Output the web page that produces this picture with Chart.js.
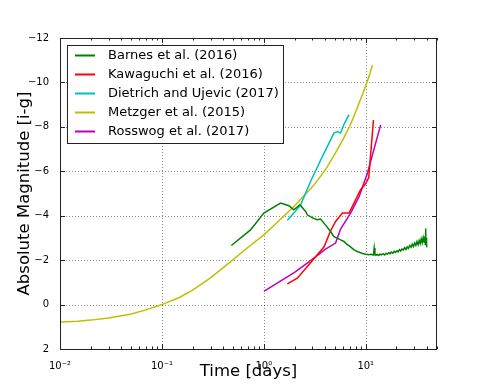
<!DOCTYPE html>
<html>
<head>
<meta charset="utf-8">
<script src="https://cdn.jsdelivr.net/npm/chart.js@4/dist/chart.umd.min.js"></script>
<style>
html,body{margin:0;padding:0;background:#fff;}
#wrap{width:485px;height:388px;position:relative;}
</style>
</head>
<body>
<div id="wrap"><canvas id="c" width="485" height="388"></canvas></div>
<script>
// ---- data ----
const seriesLabels = ['Barnes et al. (2016)','Kawaguchi et al. (2016)','Dietrich and Ujevic (2017)','Metzger et al. (2015)','Rosswog et al. (2017)'];
const seriesColors = ['#008000','#ff0000','#00bfbf','#bfbf00','#bf00bf'];

const barnesT = [0.48,0.74,1.0,1.46,1.76,1.97,2.26,2.57,2.67,3.0,3.34,3.6,4.0,4.5,4.87,5.2,5.66,6.1,6.5,7.0,7.66,8.27,9.3,
  10,10.6,11.2,11.9,12.1,12.3,12.6,13,13.4,13.8,14.3,14.8,15.3,15.8,16.3,16.8,17.3,17.8,18.4,19,19.6,20.2,20.8,21.4,22,22.7,23.4,24.1,24.8,25.5,26.2,27,27.8,28.6,29.4,30.2,31,31.8,32.6,33.4,34.2,35,35.8,36.6,37.4,38,38.4,38.7,39,39.3,39.7,40.2];
const barnesM = [-2.66,-3.36,-4.12,-4.57,-4.45,-4.27,-4.49,-4.19,-4.04,-3.9,-3.82,-3.85,-3.6,-3.3,-3.06,-3.0,-2.91,-2.84,-2.72,-2.62,-2.46,-2.39,-2.3,
  -2.27,-2.24,-2.26,-2.23,-2.55,-2.25,-2.22,-2.26,-2.21,-2.27,-2.24,-2.29,-2.23,-2.3,-2.27,-2.33,-2.29,-2.36,-2.31,-2.4,-2.35,-2.42,-2.37,-2.47,-2.41,-2.5,-2.46,-2.56,-2.48,-2.6,-2.53,-2.66,-2.58,-2.72,-2.61,-2.77,-2.66,-2.83,-2.7,-2.88,-2.74,-2.96,-2.78,-3.02,-2.8,-3.08,-2.72,-3.42,-2.7,-3.0,-2.65,-2.62];

const kawaT = [1.7,2.13,3.0,3.9,4.5,5.06,5.9,6.85,8.9,10.0,10.7,11.9];
const kawaM = [-0.93,-1.19,-1.98,-2.6,-3.3,-3.74,-4.12,-4.12,-5.17,-5.45,-5.72,-8.31];

const dietT = [1.7,2.0,2.3,2.88,3.74,4.87,5.26,5.66,6.1,6.84];
const dietM = [-3.8,-4.15,-4.5,-5.55,-6.65,-7.72,-7.79,-7.72,-8.1,-8.55];

const metzT = [0.01,0.015,0.02,0.03,0.05,0.07,0.1,0.15,0.2,0.3,0.5,0.7,1,1.5,2,3,4,5,6,7,8,9,10,11,11.6];
const metzM = [0.79,0.75,0.70,0.60,0.42,0.24,0.0,-0.33,-0.65,-1.2,-2.02,-2.58,-3.14,-3.9,-4.45,-5.3,-6.05,-6.8,-7.45,-8.05,-8.7,-9.3,-9.85,-10.4,-10.77];

const rossT = [1.0,2.0,2.88,4.03,5.06,5.66,7.1,8.6,10.4,14.0];
const rossM = [-0.59,-1.45,-1.98,-2.5,-2.77,-3.4,-4.12,-4.86,-5.92,-8.09];

const xTickValues = [0.01,0.1,1,10];
const xTickLabels = ['10\u207B\u00B2','10\u207B\u00B9','10\u2070','10\u00B9'];
const yTickValues = [-12,-10,-8,-6,-4,-2,0,2];
const yTickLabels = ['\u221212','\u221210','\u22128','\u22126','\u22124','\u22122','0','2'];

function zip(t,m){ return t.map((v,i)=>({x:v,y:m[i]})); }
const allT = [barnesT,kawaT,dietT,metzT,rossT];
const allM = [barnesM,kawaM,dietM,metzM,rossM];

const FONT = "'DejaVu Sans', sans-serif";

const framePlugin = {
  id:'frame',
  beforeDatasetsDraw(chart){
    const {ctx, chartArea:a, scales:{x,y}} = chart;
    ctx.save();
    ctx.strokeStyle = 'rgba(0,0,0,0.45)';
    ctx.lineWidth = 1;
    ctx.setLineDash([1,2]);
    xTickValues.forEach(v=>{
      const px = Math.round(x.getPixelForValue(v))+0.5;
      ctx.beginPath(); ctx.moveTo(px,a.top); ctx.lineTo(px,a.bottom); ctx.stroke();
    });
    yTickValues.forEach(v=>{
      const py = Math.round(y.getPixelForValue(v))+0.5;
      ctx.beginPath(); ctx.moveTo(a.left,py); ctx.lineTo(a.right,py); ctx.stroke();
    });
    ctx.restore();
  },
  afterDatasetsDraw(chart){
    const {ctx, chartArea:a, scales:{x,y}} = chart;
    ctx.save();
    ctx.strokeStyle = '#222';
    ctx.lineWidth = 1;
    ctx.beginPath();
    const e0 = Math.floor(Math.log10(x.min)), e1 = Math.ceil(Math.log10(x.max));
    for(let e=e0; e<=e1; e++){
      for(let k=1;k<=9;k++){
        const v = k*Math.pow(10,e);
        if(v < x.min*0.999 || v > x.max*1.001) continue;
        const px = Math.round(x.getPixelForValue(v))+0.5;
        const len = k===1 ? 5 : 2.5;
        ctx.moveTo(px,a.bottom); ctx.lineTo(px,a.bottom-len);
        ctx.moveTo(px,a.top); ctx.lineTo(px,a.top+len);
      }
    }
    yTickValues.forEach(v=>{
      const py = Math.round(y.getPixelForValue(v))+0.5;
      ctx.moveTo(a.left,py); ctx.lineTo(a.left+5,py);
      ctx.moveTo(a.right,py); ctx.lineTo(a.right-5,py);
    });
    ctx.stroke();
    ctx.strokeRect(Math.round(a.left)+0.5, Math.round(a.top)+0.5, Math.round(a.right-a.left)-1, Math.round(a.bottom-a.top));
    // legend
    const lx = 67.5, ly = 45.5, lw = 216, lh = 98;
    ctx.fillStyle = '#fff';
    ctx.fillRect(lx,ly,lw,lh);
    ctx.strokeStyle = '#222';
    ctx.strokeRect(lx,ly,lw,lh);
    ctx.font = '13px ' + FONT;
    ctx.textBaseline = 'middle';
    ctx.textAlign = 'left';
    chart.data.datasets.forEach((ds,i)=>{
      const yy = 55.5 + i*19;
      ctx.strokeStyle = ds.borderColor;
      ctx.lineWidth = 2;
      ctx.beginPath(); ctx.moveTo(75,yy); ctx.lineTo(95,yy); ctx.stroke();
      ctx.fillStyle = '#000';
      ctx.fillText(ds.label, 108, yy+0.5);
    });
    ctx.restore();
  }
};

new Chart(document.getElementById('c'), {
  type:'line',
  data:{
    datasets: seriesLabels.map((lab,i)=>({
      label: lab,
      data: zip(allT[i], allM[i]),
      borderColor: seriesColors[i],
      backgroundColor: seriesColors[i],
      borderWidth: 1.5,
      pointRadius: 0,
      tension: 0,
      fill: false
    }))
  },
  options:{
    responsive:false,
    animation:false,
    events:[],
    layout:{padding:{left:0,top:38,right:48,bottom:0}},
    plugins:{legend:{display:false}, tooltip:{enabled:false}},
    scales:{
      x:{
        type:'logarithmic',
        min:0.01, max:50,
        grid:{display:false},
        border:{display:false},
        afterFit(s){ s.height = 39; },
        afterBuildTicks(s){ s.ticks = xTickValues.map(v=>({value:v})); },
        ticks:{
          autoSkip:false, maxRotation:0, padding:3,
          color:'#000', font:{family:FONT, size:10},
          callback:(v)=>{ const i = xTickValues.findIndex(t=>Math.abs(t-v)/t<1e-6); return i>=0 ? xTickLabels[i] : ''; }
        },
        title:{display:true, text:'Time [days]', color:'#000', font:{family:FONT, size:16.5}, padding:{top:0,bottom:6}}
      },
      y:{
        type:'linear',
        reverse:true,
        min:-12, max:2,
        grid:{display:false},
        border:{display:false},
        afterFit(s){ s.width = 60; },
        afterBuildTicks(s){ s.ticks = yTickValues.map(v=>({value:v})); },
        ticks:{
          autoSkip:false, padding:3,
          color:'#000', font:{family:FONT, size:10},
          callback:(v)=>{ const i = yTickValues.indexOf(v); return i>=0 ? yTickLabels[i] : ''; }
        },
        title:{display:true, text:'Absolute Magnitude [i-g]', color:'#000', font:{family:FONT, size:16.5}, padding:{top:15,bottom:0}}
      }
    }
  },
  plugins:[framePlugin]
});
</script>
</body>
</html>
